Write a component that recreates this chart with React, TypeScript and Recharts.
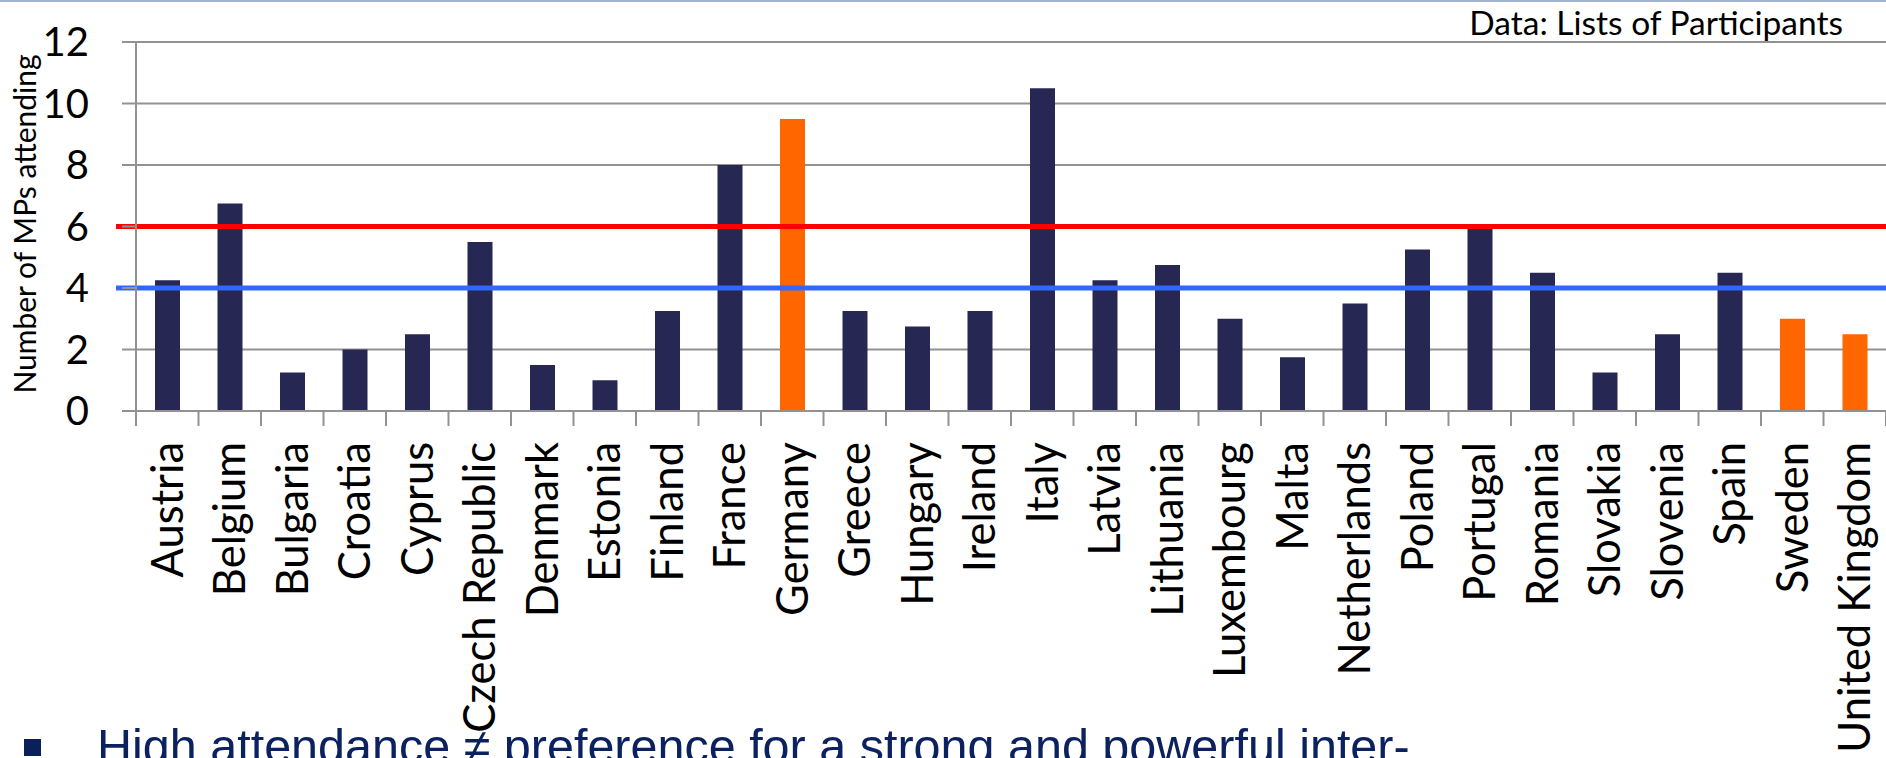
import {
  BarChart,
  Bar,
  XAxis,
  YAxis,
  CartesianGrid,
  ReferenceLine,
  Cell,
} from "recharts";

const countries = [
  "Austria",
  "Belgium",
  "Bulgaria",
  "Croatia",
  "Cyprus",
  "Czech Republic",
  "Denmark",
  "Estonia",
  "Finland",
  "France",
  "Germany",
  "Greece",
  "Hungary",
  "Ireland",
  "Italy",
  "Latvia",
  "Lithuania",
  "Luxembourg",
  "Malta",
  "Netherlands",
  "Poland",
  "Portugal",
  "Romania",
  "Slovakia",
  "Slovenia",
  "Spain",
  "Sweden",
  "United Kingdom",
];

const mpsAttending = [
  4.25, 6.75, 1.25, 2, 2.5, 5.5, 1.5, 1, 3.25, 8, 9.5, 3.25, 2.75, 3.25, 10.5,
  4.25, 4.75, 3, 1.75, 3.5, 5.25, 6, 4.5, 1.25, 2.5, 4.5, 3, 2.5,
];

const highlighted = ["Germany", "Sweden", "United Kingdom"];
const yTicks = [0, 2, 4, 6, 8, 10, 12];
const upperThreshold = 6;
const lowerThreshold = 4;

const W = 1886;
const H = 758;
const PLOT_LEFT = 136;
const PLOT_TOP = 42;
const PLOT_BOTTOM = 411;
const BAND = (W - PLOT_LEFT) / countries.length;

const NAVY = "#262853";
const ORANGE = "#ff6600";
const GRID = "#929292";
const FONT = "Lato, 'Open Sans', sans-serif";

const data = countries.map((country, i) => ({
  country,
  mps: mpsAttending[i],
}));

function CountryTick(props: any) {
  const { x, y, payload } = props;
  const isLast = payload.value === countries[countries.length - 1];
  const ty = y + 31;
  return (
    <g>
      <line x1={x - BAND / 2} y1={y} x2={x - BAND / 2} y2={y + 15} stroke={GRID} strokeWidth={2} />
      {isLast && (
        <line x1={x + BAND / 2} y1={y} x2={x + BAND / 2} y2={y + 15} stroke={GRID} strokeWidth={2} />
      )}
      <text
        x={x}
        y={ty}
        dy="0.36em"
        transform={`rotate(-90, ${x}, ${ty})`}
        textAnchor="end"
        fontFamily={FONT}
        fontSize={43.5}
        fill="#000"
      >
        {payload.value}
      </text>
    </g>
  );
}

function thresholdLine(color: string) {
  return (p: any) => (
    <line x1={p.x1 - 20} y1={p.y1} x2={p.x2} y2={p.y2} stroke={color} strokeWidth={5} />
  );
}

export default function App() {
  return (
    <div
      style={{
        position: "absolute",
        left: 0,
        top: 0,
        width: W,
        height: H,
        overflow: "hidden",
        background: "#fff",
      }}
    >
      <div style={{ position: "absolute", left: 0, top: 0, width: W, height: 2, background: "#a3b3d3" }} />
      <BarChart
        width={W}
        height={H}
        data={data}
        margin={{ top: PLOT_TOP, right: 0, left: 0, bottom: 0 }}
      >
        <CartesianGrid vertical={false} stroke={GRID} strokeWidth={2} />
        <XAxis
          dataKey="country"
          height={H - PLOT_BOTTOM}
          interval={0}
          tickSize={0}
          tickMargin={0}
          tickLine={false}
          axisLine={{ stroke: GRID, strokeWidth: 2 }}
          tick={<CountryTick />}
        />
        <YAxis
          width={PLOT_LEFT}
          domain={[0, 12]}
          ticks={yTicks}
          interval={0}
          tickSize={14}
          tickMargin={33}
          axisLine={{ stroke: GRID, strokeWidth: 2 }}
          tickLine={{ stroke: GRID, strokeWidth: 2 }}
          tick={{ fontFamily: FONT, fontSize: 40, fill: "#000" }}
        />
        <Bar dataKey="mps" barSize={25} isAnimationActive={false}>
          {data.map((d) => (
            <Cell key={d.country} fill={highlighted.includes(d.country) ? ORANGE : NAVY} />
          ))}
        </Bar>
        <ReferenceLine y={upperThreshold} shape={thresholdLine("#ff0000")} />
        <ReferenceLine y={lowerThreshold} shape={thresholdLine("#3366ff")} />
      </BarChart>
      <svg
        width={W}
        height={H}
        style={{ position: "absolute", left: 0, top: 0, pointerEvents: "none" }}
      >
        <text
          x={36}
          y={224}
          transform="rotate(-90, 36, 224)"
          textAnchor="middle"
          fontFamily={FONT}
          fontSize={30}
          fill="#000"
        >
          Number of MPs attending
        </text>
        <text x={1843} y={35} textAnchor="end" fontFamily={FONT} fontSize={33.5} fill="#000">
          Data: Lists of Participants
        </text>
        <rect x={24} y={739} width={17} height={17} fill="#0a1f5c" />
        <text
          x={97}
          y={763}
          fontFamily="'Liberation Sans', Arial, sans-serif"
          fontSize={48.5}
          fill="#0b2160"
        >
          High attendance ≠ preference for a strong and powerful inter-
        </text>
      </svg>
    </div>
  );
}
